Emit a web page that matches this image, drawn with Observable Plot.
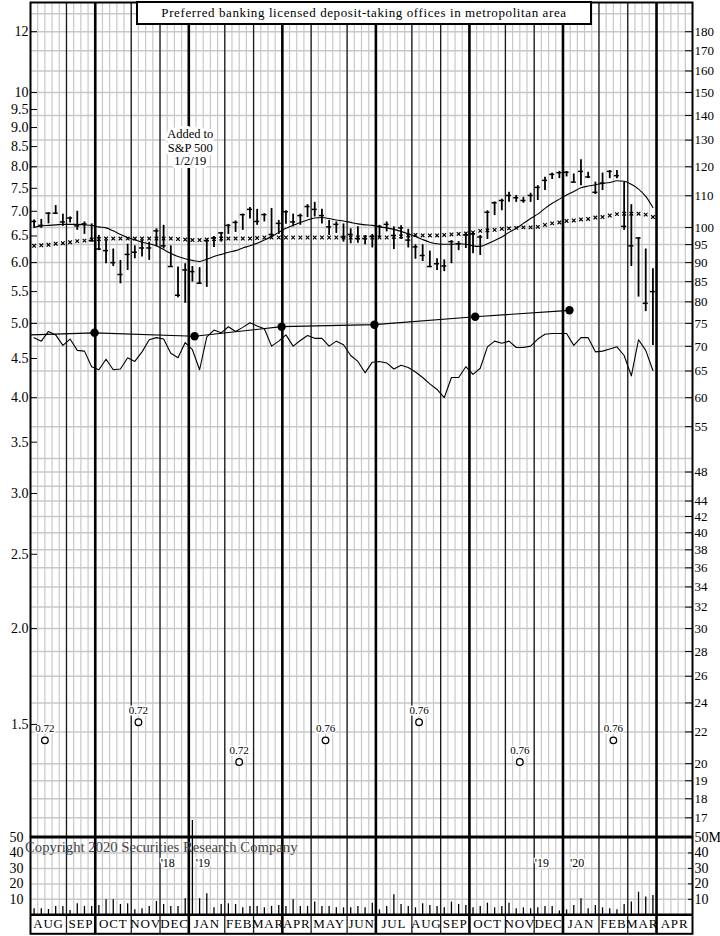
<!DOCTYPE html>
<html><head><meta charset="utf-8">
<script src="https://cdn.jsdelivr.net/npm/d3@7"></script>
<script src="https://cdn.jsdelivr.net/npm/@observablehq/plot@0.6"></script>
<style>
body{margin:0;background:#fff;}
#chart{position:relative;width:720px;height:936px;font-family:"Liberation Serif","DejaVu Serif",serif;}
#chart svg{display:block;overflow:visible;background:transparent;}
.title{position:absolute;left:136px;top:1px;width:452px;height:20px;border:2px solid #000;background:#fff;text-align:center;font-size:13px;line-height:20px;letter-spacing:0.6px;white-space:nowrap;}
.copy{position:absolute;left:25px;top:839px;font-size:14.7px;color:#444;white-space:nowrap;}
</style></head><body><div id="chart"></div>
<script>
// ---------- data ----------
const monthNames = ["AUG","SEP","OCT","NOV","DEC","JAN","FEB","MAR","APR","MAY","JUN","JUL","AUG","SEP","OCT","NOV","DEC","JAN","FEB","MAR","APR"];
const monthWeeks = [5,4,5,4,4,5,4,4,4,5,4,5,4,4,5,4,4,5,4,4,5];
const yearLabels = [["'18","'19"],["'19","'20"]];

const high = [6.82,6.83,6.97,7.12,6.94,6.88,7.00,6.78,6.74,6.51,6.41,6.25,6.04,6.34,6.31,6.41,6.38,6.64,6.71,6.31,
5.92,5.98,5.93,5.91,6.42,6.49,6.57,6.73,6.80,6.94,7.08,7.04,6.95,7.06,6.81,7.01,6.94,6.94,7.14,7.19,
7.04,6.81,6.78,6.74,6.64,6.68,6.51,6.53,6.71,6.78,6.68,6.70,6.63,6.33,6.33,6.21,6.07,6.05,6.41,6.39,
6.55,6.57,6.51,7.01,7.20,7.26,7.41,7.34,7.30,7.39,7.56,7.75,7.85,7.89,7.89,7.83,8.17,7.87,7.64,7.85,
7.91,7.91,7.64,7.14,6.47,6.25,5.89];
const low = [6.65,6.65,6.74,6.94,6.69,6.76,6.61,6.53,6.38,6.22,5.98,5.93,5.63,5.86,6.07,6.10,6.04,6.29,6.25,5.92,
5.40,5.31,5.66,5.62,5.57,6.28,6.38,6.53,6.57,6.61,6.84,6.71,6.78,6.48,6.53,6.73,6.68,6.71,6.87,6.88,
6.74,6.51,6.55,6.38,6.35,6.36,6.33,6.27,6.45,6.58,6.24,6.43,6.27,6.06,6.02,5.91,5.86,5.84,5.98,6.22,
6.26,6.16,6.13,6.43,6.91,7.01,7.19,7.19,7.17,7.19,7.23,7.45,7.70,7.72,7.76,7.62,7.56,7.72,7.36,7.45,
7.72,7.72,6.61,5.93,5.41,5.18,4.68];
const close = [6.79,6.71,6.96,6.96,6.78,6.86,6.70,6.74,6.41,6.25,6.22,6.00,5.79,6.15,6.19,6.27,6.27,6.60,6.31,5.93,
5.44,5.87,5.84,5.64,6.41,6.46,6.56,6.71,6.77,6.93,7.04,6.79,6.93,6.53,6.75,6.99,6.78,6.91,7.10,7.04,
6.91,6.68,6.73,6.48,6.53,6.45,6.45,6.49,6.69,6.73,6.51,6.66,6.42,6.29,6.13,5.93,5.98,5.94,6.39,6.35,
6.52,6.54,6.48,6.98,7.18,7.23,7.34,7.29,7.23,7.34,7.52,7.68,7.82,7.86,7.87,7.64,7.89,7.76,7.41,7.62,
7.89,7.79,6.69,6.31,6.46,5.31,5.50];
const ma10 = [6.67,6.70,6.71,6.72,6.73,6.73,6.73,6.72,6.71,6.68,6.66,6.60,6.53,6.47,6.42,6.38,6.35,6.31,6.24,6.17,
6.11,6.07,6.04,6.02,6.06,6.11,6.15,6.19,6.22,6.27,6.31,6.36,6.42,6.49,6.57,6.65,6.71,6.77,6.82,6.86,
6.87,6.85,6.82,6.80,6.77,6.74,6.72,6.71,6.68,6.66,6.63,6.59,6.54,6.49,6.43,6.38,6.35,6.34,6.34,6.35,
6.34,6.31,6.30,6.35,6.41,6.48,6.57,6.65,6.75,6.85,6.94,7.06,7.17,7.26,7.35,7.43,7.51,7.55,7.58,7.61,
7.63,7.67,7.66,7.59,7.48,7.32,7.08];
const ma40 = [6.31,6.32,6.33,6.35,6.36,6.38,6.40,6.41,6.43,6.44,6.45,6.45,6.45,6.45,6.45,6.45,6.45,6.45,6.45,6.45,
6.44,6.43,6.42,6.42,6.43,6.44,6.45,6.45,6.45,6.45,6.45,6.46,6.47,6.47,6.47,6.47,6.47,6.47,6.47,6.47,
6.47,6.47,6.47,6.47,6.47,6.47,6.47,6.47,6.47,6.47,6.48,6.49,6.51,6.52,6.51,6.51,6.51,6.52,6.53,6.54,
6.55,6.57,6.60,6.61,6.62,6.64,6.65,6.66,6.67,6.67,6.68,6.72,6.75,6.77,6.80,6.81,6.83,6.84,6.87,6.88,
6.91,6.94,6.95,6.95,6.95,6.93,6.88];
const relStrength = [4.79,4.74,4.88,4.83,4.68,4.77,4.61,4.60,4.39,4.35,4.49,4.35,4.36,4.51,4.46,4.59,4.76,4.79,4.77,4.57,
4.51,4.72,4.62,4.35,4.80,4.90,4.86,4.95,4.88,4.94,5.01,4.96,4.92,4.67,4.74,4.83,4.67,4.75,4.82,4.78,
4.78,4.67,4.74,4.69,4.54,4.46,4.31,4.45,4.46,4.44,4.36,4.41,4.38,4.32,4.25,4.17,4.10,4.00,4.25,4.25,
4.39,4.29,4.37,4.66,4.74,4.71,4.74,4.65,4.65,4.67,4.77,4.84,4.85,4.85,4.85,4.68,4.79,4.79,4.59,4.60,
4.63,4.66,4.54,4.27,4.76,4.61,4.34];
const volume = [3.9,3.9,3.4,5.4,5.4,2.8,7.1,5.4,5.4,6.0,9.7,9.7,6.7,7.1,3.2,3.9,5.4,8.6,6.7,5.4,
5.4,10.4,61,10.4,13.6,4.5,6.7,7.1,6.7,4.5,5.4,5.4,4.5,5.4,6.0,5.4,9.7,5.4,5.4,8.2,
5.4,5.4,4.5,4.5,4.5,5.4,4.5,7.5,3.2,5.4,12.9,6.7,5.4,4.5,7.1,6.0,5.4,4.5,8.2,6.7,
6.0,4.5,5.4,7.5,4.5,5.4,7.5,3.9,4.5,3.9,4.5,5.4,5.4,2.5,3.2,6.0,10.4,3.9,6.0,4.5,
3.9,3.2,6.7,8.2,14.6,11.5,12.5];
const earnWeek = [0, 8.9, 22.8, 34.9, 47.8, 61.8, 74.9];
const earnValue = [4.83, 4.86, 4.81, 4.95, 4.98, 5.10, 5.20];
const divWeek = [2, 15, 29, 41, 54, 68, 81];
const divValue = [1.43, 1.51, 1.34, 1.43, 1.51, 1.34, 1.43];
const divLabel = ["0.72","0.72","0.72","0.76","0.76","0.76","0.76"];
const noteWeek = [22.2];
const noteValue = [8.48];
const noteText = ["Added to\nS&P 500\n1/2/19"];
const leftTicks = [12,10,9.5,9,8.5,8,7.5,7,6.5,6,5.5,5,4.5,4,3.5,3,2.5,2,1.5];
const leftLabels = ["12","10","9.5","9.0","8.5","8.0","7.5","7.0","6.5","6.0","5.5","5.0","4.5","4.0","3.5","3.0","2.5","2.0","1.5"];
const rightTicks = [180,170,160,150,140,130,120,110,100,95,90,85,80,75,70,65,60,55,48,44,42,40,38,36,34,32,30,28,26,24,22,20,19,18,17];
const rightGridExtra = [190,50,46];
const rightFactor = 15;
const volTicks = [10,20,30,40,50];
const volLeftLabels = ["10","20","30","40","50"];
const volRightLabels = ["10","20","30","40","50M"];

// ---------- derived ----------
const F = '"Liberation Serif","DejaVu Serif",serif';
const N = high.length;
const bars = d3.range(N).map(i => ({w: i + 0.5, h: high[i], l: low[i], c: close[i], m10: ma10[i], m40: ma40[i], rs: relStrength[i], v: volume[i]}));
const monthStart = []; let acc = 0;
monthWeeks.forEach(n => { monthStart.push(acc); acc += n; });
const totalWeeks = acc;
const qNames = new Set(["JAN","APR","JUL","OCT"]);
const monthLines = monthStart.filter((s, i) => i > 0 && !qNames.has(monthNames[i]));
const quarterLines = monthStart.filter((s, i) => i > 0 && qNames.has(monthNames[i]));
const monthMid = monthStart.map((s, i) => s + monthWeeks[i] / 2);
const monthLabelMap = new Map(monthMid.map((m, i) => [m, monthNames[i]]));
const yearBounds = monthStart.filter((s, i) => monthNames[i] === "JAN");
const yearMarks = yearBounds.map((w, i) => ({w, left: yearLabels[i][0], right: yearLabels[i][1]}));
const weekLines = d3.range(0, totalWeeks + 1);
const leftMap = new Map(leftTicks.map((t, i) => [t, leftLabels[i]]));
const rightVals = rightTicks.map(v => v / rightFactor);
const rightMap = new Map(rightVals.map((t, i) => [t, String(rightTicks[i])]));
const gridVals = rightTicks.concat(rightGridExtra).map(v => v / rightFactor);
const earn = earnWeek.map((w, i) => ({w, v: earnValue[i]}));
const divs = divWeek.map((w, i) => ({w, v: divValue[i], t: divLabel[i]}));
const notes = noteWeek.map((w, i) => ({w, v: noteValue[i], t: noteText[i]}));
const volLMap = new Map(volTicks.map((t, i) => [t, volLeftLabels[i]]));
const volRMap = new Map(volTicks.map((t, i) => [t, volRightLabels[i]]));

const grid = "#c8c8c8";

const price = Plot.plot({
  width: 720, height: 836, marginTop: 2, marginBottom: 0, marginLeft: 30, marginRight: 28,
  x: {domain: [0, totalWeeks], axis: null},
  y: {type: "log", domain: [1.0715, 13.10]},
  style: {fontFamily: F, fontSize: "14px", background: "transparent", overflow: "visible"},
  marks: [
    Plot.ruleX(weekLines, {stroke: grid, strokeWidth: 1.2}),
    Plot.ruleY(gridVals, {stroke: grid, strokeWidth: 1.5}),
    Plot.ruleX(monthLines, {stroke: "#1a1a1a", strokeWidth: 1.3}),
    Plot.ruleX(quarterLines, {stroke: "#000", strokeWidth: 2.6}),
    Plot.line(bars, {x: "w", y: "rs", stroke: "#000", strokeWidth: 1.1}),
    Plot.line(earn, {x: "w", y: "v", stroke: "#000", strokeWidth: 1.2}),
    Plot.dot(earn.slice(1), {x: "w", y: "v", r: 4.2, fill: "#000"}),
    Plot.dot(bars, {x: "w", y: "m40", symbol: "times", r: 1.8, stroke: "#000", strokeWidth: 1.2}),
    Plot.line(bars, {x: "w", y: "m10", stroke: "#000", strokeWidth: 1.1, curve: "monotone-x"}),
    Plot.ruleX(bars, {x: "w", y1: "l", y2: "h", stroke: "#000", strokeWidth: 1.8}),
    Plot.ruleY(bars, {y: "c", x1: d => d.w - 0.35, x2: d => d.w + 0.35, stroke: "#000", strokeWidth: 1.5}),
    Plot.dot(divs, {x: "w", y: "v", r: 3.3, stroke: "#000", fill: "#fff", strokeWidth: 1.3}),
    Plot.text(divs, {x: "w", y: "v", text: "t", dy: -12, fontSize: 11, fill: "#000", stroke: "#fff", strokeWidth: 3}),
    Plot.text(notes, {x: "w", y: "v", text: "t", fontSize: 12.5, lineHeight: 1.05, fill: "#000", stroke: "#fff", strokeWidth: 6}),
    Plot.axisY({anchor: "left", label: null, ticks: leftTicks, tickFormat: d => leftMap.get(d), tickSize: -7, tickPadding: 9, fontSize: 14}),
    Plot.axisY({anchor: "right", label: null, ticks: rightVals, tickFormat: d => rightMap.get(d), tickSize: -8, tickPadding: 10, fontSize: 13}),
    Plot.frame({stroke: "#000", strokeWidth: 2})
  ]
});

const vol = Plot.plot({
  width: 720, height: 100, marginTop: 1, marginBottom: 21.7, marginLeft: 30, marginRight: 28,
  x: {domain: [0, totalWeeks]},
  y: {domain: [0, 50]},
  style: {fontFamily: F, fontSize: "14px", background: "transparent", overflow: "visible"},
  marks: [
    Plot.ruleX(weekLines, {stroke: grid, strokeWidth: 1.2}),
    Plot.ruleY(volTicks.slice(0, -1), {stroke: grid, strokeWidth: 1.5}),
    Plot.ruleX(monthLines, {stroke: "#1a1a1a", strokeWidth: 1.3, insetBottom: -19}),
    Plot.ruleX(quarterLines, {stroke: "#000", strokeWidth: 2.6, insetBottom: -19}),
    Plot.ruleX(bars, {x: "w", y1: 0, y2: "v", stroke: "#000", strokeWidth: 1.3}),
    Plot.text(yearMarks, {x: "w", text: "left", frameAnchor: "top", dy: 21, dx: -14, textAnchor: "end", fontSize: 12, fill: "#000", stroke: "#fff", strokeWidth: 3}),
    Plot.text(yearMarks, {x: "w", text: "right", frameAnchor: "top", dy: 21, dx: 7, textAnchor: "start", fontSize: 12, fill: "#000", stroke: "#fff", strokeWidth: 3}),
    Plot.axisY({anchor: "left", label: null, ticks: volTicks, tickFormat: d => volLMap.get(d), tickSize: 0, tickPadding: 7, fontSize: 14}),
    Plot.axisY({anchor: "right", label: null, ticks: volTicks, tickFormat: d => volRMap.get(d), tickSize: -5, tickPadding: 7, fontSize: 14}),
    Plot.axisX({anchor: "bottom", label: null, ticks: monthMid, tickFormat: d => monthLabelMap.get(d), tickSize: 0, tickPadding: 4, fontSize: 13}),
    Plot.ruleY([0], {stroke: "#000", strokeWidth: 2.6}),
    Plot.frame({stroke: "#000", strokeWidth: 2, insetBottom: -19})
  ]
});

const chart = document.getElementById("chart");
chart.appendChild(price);
chart.appendChild(vol);
d3.select(vol).selectAll("g[aria-label='x-axis tick label'] text").style("letter-spacing", "0.8px");
const t = document.createElement("div");
t.className = "title";
t.textContent = "Preferred banking licensed deposit-taking offices in metropolitan area";
chart.appendChild(t);
const c = document.createElement("div");
c.className = "copy";
c.textContent = "Copyright 2020 Securities Research Company";
chart.appendChild(c);
</script>
</body></html>
